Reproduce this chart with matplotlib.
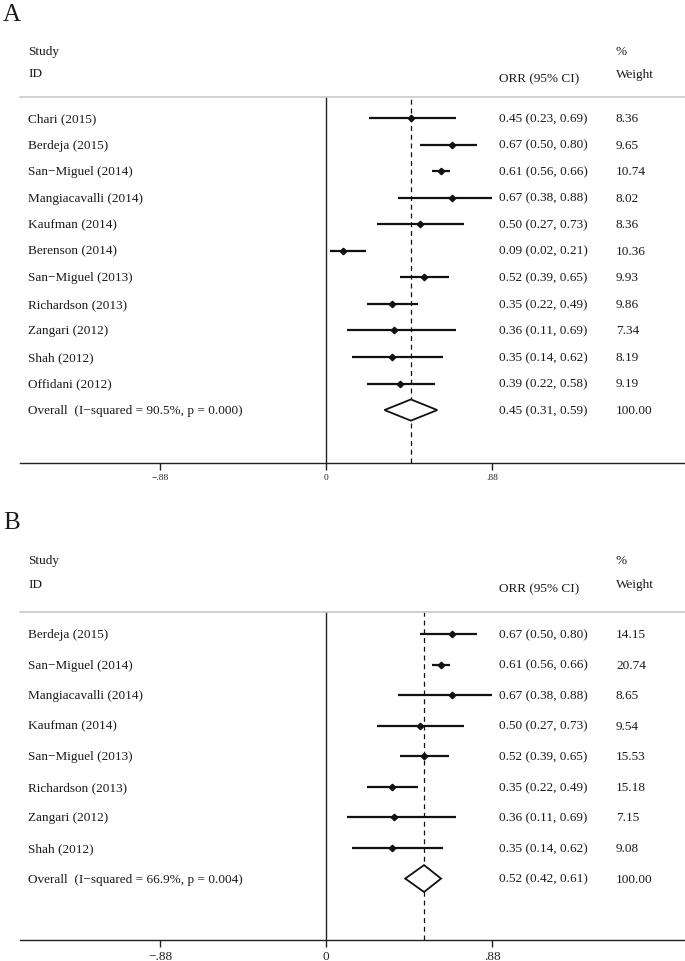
import numpy as np
import matplotlib
matplotlib.use("Agg")
import matplotlib.pyplot as plt
from matplotlib.patches import Polygon

plt.rcParams['font.family'] = ['Liberation Serif', 'DejaVu Serif']

# panel A data
a_study = ["Chari (2015)", "Berdeja (2015)", "San\u2212Miguel (2014)", "Mangiacavalli (2014)",
           "Kaufman (2014)", "Berenson (2014)", "San\u2212Miguel (2013)", "Richardson (2013)",
           "Zangari (2012)", "Shah (2012)", "Offidani (2012)"]
a_orr = [0.45, 0.67, 0.61, 0.67, 0.50, 0.09, 0.52, 0.35, 0.36, 0.35, 0.39]
a_lo = [0.23, 0.50, 0.56, 0.38, 0.27, 0.02, 0.39, 0.22, 0.11, 0.14, 0.22]
a_hi = [0.69, 0.80, 0.66, 0.88, 0.73, 0.21, 0.65, 0.49, 0.69, 0.62, 0.58]
a_wt = ["8.36", "9.65", "10.74", "8.02", "8.36", "10.36", "9.93", "9.86", "7.34", "8.19", "9.19"]
a_overall = [0.45, 0.31, 0.59]
a_het = "Overall  (I\u2212squared = 90.5%, p = 0.000)"

# panel B data
b_study = ["Berdeja (2015)", "San\u2212Miguel (2014)", "Mangiacavalli (2014)", "Kaufman (2014)",
           "San\u2212Miguel (2013)", "Richardson (2013)", "Zangari (2012)", "Shah (2012)"]
b_orr = [0.67, 0.61, 0.67, 0.50, 0.52, 0.35, 0.36, 0.35]
b_lo = [0.50, 0.56, 0.38, 0.27, 0.39, 0.22, 0.11, 0.14]
b_hi = [0.80, 0.66, 0.88, 0.73, 0.65, 0.49, 0.69, 0.62]
b_wt = ["14.15", "20.74", "8.65", "9.54", "15.53", "15.18", "7.15", "9.08"]
b_overall = [0.52, 0.42, 0.61]
b_het = "Overall  (I\u2212squared = 66.9%, p = 0.004)"

ticks = [-0.88, 0, 0.88]
tick_labels = ["\u2212.88", "0", ".88"]

W, H = 685, 962
X0, XS = 326, 188.6      # pixel of zero, pixels per unit
LEFT, RIGHT = 20, 685
TXT = "#1a1a1a"
FS = 9.5

fig = plt.figure(figsize=(W / 100, H / 100), dpi=100)


def forest(top, bottom, row0, step, hdr, studies, orr, lo, hi, wt, overall, het, tick_fs, dh):
    ax = fig.add_axes([LEFT / W, 1 - bottom / H, (RIGHT - LEFT) / W, (bottom - top) / H])
    ax.set_xlim((LEFT - X0) / XS, (RIGHT - X0) / XS)
    ax.set_ylim((bottom - row0) / step, (top - row0) / step)
    rows = np.arange(len(studies))
    n = len(studies)

    ax.axvline(0, color="#222", lw=1.0)
    ax.axvline(overall[0], color="#111", lw=0.9, ls=(0, (4, 3)))
    ax.hlines(rows, lo, hi, color="#111", lw=1.6)
    ax.plot(orr, rows, "D", color="#111", ms=3.3)

    est, l, h = overall
    dia = Polygon([[l, n], [est, n - dh], [h, n], [est, n + dh]], closed=True,
                  facecolor="white", edgecolor="#111", lw=1.3, zorder=3)
    ax.add_patch(dia)

    tr = ax.get_yaxis_transform()
    xn, xo, xw = (28 - LEFT) / (RIGHT - LEFT), (499 - LEFT) / (RIGHT - LEFT), (616 - LEFT) / (RIGHT - LEFT)
    for i, s in enumerate(studies):
        ax.text(xn, i, s, transform=tr, va="center", fontsize=FS, color=TXT)
        ax.text(xo, i, "%.2f (%.2f, %.2f)" % (orr[i], lo[i], hi[i]), transform=tr,
                va="center", fontsize=FS, color=TXT)
        ax.text(xw, i, wt[i], transform=tr, va="center", fontsize=FS, color=TXT)
    ax.text(xn, n, het, transform=tr, va="center", fontsize=FS, color=TXT)
    ax.text(xo, n, "%.2f (%.2f, %.2f)" % (est, l, h), transform=tr, va="center", fontsize=FS, color=TXT)
    ax.text(xw, n, "100.00", transform=tr, va="center", fontsize=FS, color=TXT)

    # header
    r = lambda p: (p - row0) / step
    ax.text(xn, r(hdr[0]), "Study", transform=tr, va="center", fontsize=FS, color=TXT, clip_on=False)
    ax.text(xn, r(hdr[1]), "ID", transform=tr, va="center", fontsize=FS, color=TXT, clip_on=False)
    ax.text(xo, r(hdr[2]), "ORR (95% CI)", transform=tr, va="center", fontsize=FS, color=TXT, clip_on=False)
    ax.text(xw, r(hdr[3]), "%", transform=tr, va="center", fontsize=FS, color=TXT, clip_on=False)
    ax.text(xw, r(hdr[4]), "Weight", transform=tr, va="center", fontsize=FS, color=TXT, clip_on=False)

    for side in ["left", "right"]:
        ax.spines[side].set_visible(False)
    ax.spines["top"].set_color("#c8c8c8")
    ax.spines["top"].set_linewidth(1.2)
    ax.spines["bottom"].set_color("#222")
    ax.spines["bottom"].set_linewidth(1.0)
    ax.set_yticks([])
    ax.set_xticks(ticks)
    ax.set_xticklabels(tick_labels)
    ax.tick_params(axis="x", length=5, width=1.0, pad=2.5, labelsize=tick_fs, colors="#222")
    return ax


forest(98, 464, 119, 26.55, (52, 74, 79, 52, 75), a_study, a_orr, a_lo, a_hi, a_wt,
       a_overall, a_het, 6.8, 0.4)
forest(613, 941, 635, 30.57, (561, 585, 589, 561, 585), b_study, b_orr, b_lo, b_hi, b_wt,
       b_overall, b_het, 9.5, 0.44)

fig.text(3 / W, 1 - 21 / H, "A", fontsize=18, va="baseline", color=TXT)
fig.text(3 / W, 1 - 529 / H, "B", fontsize=18, va="baseline", color=TXT)

fig.savefig("out.png", dpi=100, facecolor="white")
